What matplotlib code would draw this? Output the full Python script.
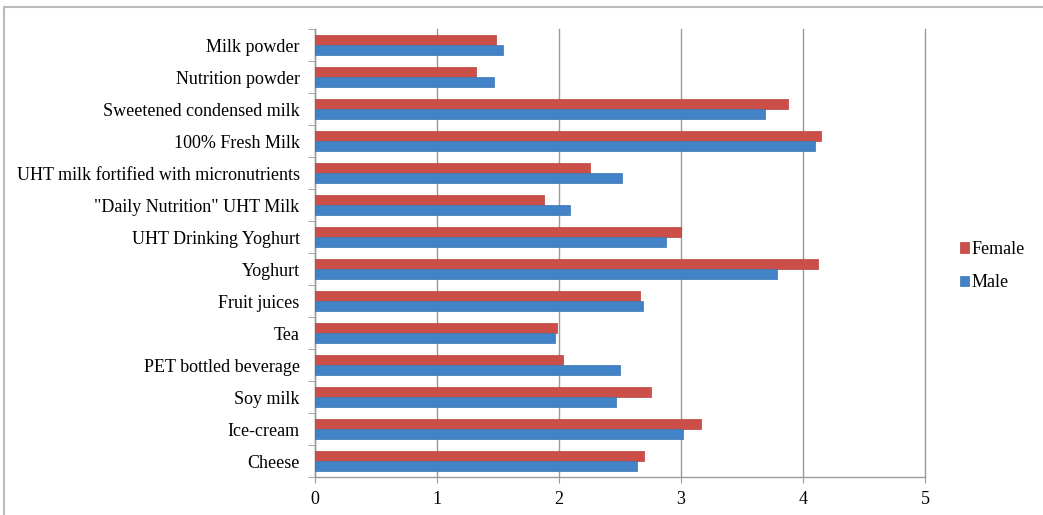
import numpy as np
import matplotlib
matplotlib.use("Agg")
import matplotlib.pyplot as plt
from matplotlib.patches import Rectangle

#-------------------------------------------------
#   data (top row of chart first)
#-------------------------------------------------
categories = ["Milk powder", "Nutrition powder", "Sweetened condensed milk",
              "100% Fresh Milk", "UHT milk fortified with micronutrients",
              "\"Daily Nutrition\" UHT Milk", "UHT Drinking Yoghurt", "Yoghurt",
              "Fruit juices", "Tea", "PET bottled beverage", "Soy milk",
              "Ice-cream", "Cheese"]
female = [1.48, 1.32, 3.88, 4.15, 2.25, 1.88, 3.00, 4.12, 2.66, 1.98, 2.03, 2.75, 3.16, 2.70]
male = [1.54, 1.47, 3.69, 4.10, 2.52, 2.09, 2.88, 3.79, 2.69, 1.97, 2.50, 2.47, 3.02, 2.64]
xticks = [0, 1, 2, 3, 4, 5]

plt.rcParams['font.family'] = ['Liberation Serif', 'DejaVu Serif']
plt.rcParams['font.size'] = 13

red = '#CB4E49'
blue = '#4283C8'
grey = '#9A9A9A'

fig = plt.figure(figsize=(10.43, 5.15), dpi=100)
ax = fig.add_axes([315 / 1043, 1 - 477 / 515, 610 / 1043, 448 / 515])

# outer chart frame
fig.patches.append(Rectangle((4 / 1043, -0.1), 1.2, 1 - 7 / 515 + 0.1,
                             transform=fig.transFigure, fill=False,
                             edgecolor='#BBBBBB', linewidth=1.5))

n = len(categories)
pos = np.arange(n)[::-1]
h = 0.3
ax.barh(pos + h / 2, female, height=h, color=red, edgecolor='#B8433F', linewidth=0.5, label='Female', zorder=3)
ax.barh(pos - h / 2, male, height=h, color=blue, edgecolor='#3A74B3', linewidth=0.5, label='Male', zorder=3)

ax.set_xlim(0, 5)
ax.set_ylim(-0.5, n - 0.5)
ax.set_xticks(xticks)
ax.set_xticklabels([str(t) for t in xticks])
ax.set_yticks(pos)
ax.set_yticklabels(categories)
ax.set_yticks(np.arange(n + 1) - 0.5, minor=True)

ax.grid(axis='x', color=grey, linewidth=1, zorder=0)
for gl in ax.get_xgridlines():
    gl.set_clip_on(False)
for s in ['top', 'right']:
    ax.spines[s].set_visible(False)
for s in ['left', 'bottom']:
    ax.spines[s].set_color(grey)
    ax.spines[s].set_linewidth(1)

ax.tick_params(axis='y', which='major', length=0, pad=11)
ax.tick_params(axis='y', which='minor', length=5, color=grey, direction='out')
ax.tick_params(axis='x', length=4, color=grey, pad=6)

ax.legend(loc='center left', bbox_to_anchor=(944 / 1043, 1 - 266 / 515),
          bbox_transform=fig.transFigure, frameon=False,
          handlelength=0.5, handleheight=0.5, handletextpad=0.15,
          labelspacing=0.9)

fig.savefig('out.png', dpi=100)
